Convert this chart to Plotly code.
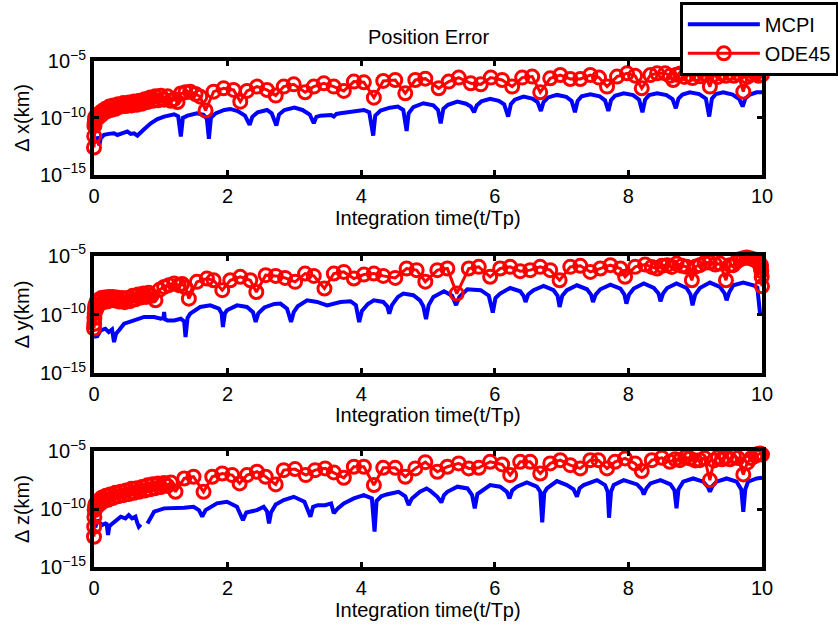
import plotly.graph_objects as go
from plotly.subplots import make_subplots

# Values: (t/Tp, log10 of error in km)
mcpi_x = [
    (0.05, -11.6), (0.08, -12.4), (0.10, -11.8), (0.15, -11.49), (0.22, -11.4), (0.30, -11.35),
    (0.35, -11.5), (0.40, -11.43), (0.45, -11.3), (0.50, -11.2), (0.55, -11.4), (0.60, -11.35),
    (0.65, -11.55), (0.75, -11.0), (0.85, -10.47), (0.95, -10.1), (1.05, -9.88), (1.20, -9.68),
    (1.26, -9.85), (1.30, -11.64), (1.33, -10.0), (1.40, -9.8), (1.54, -9.59), (1.64, -9.72),
    (1.69, -10.1), (1.72, -11.84), (1.75, -10.0), (1.82, -9.6), (1.95, -9.3), (2.04, -9.21),
    (2.15, -9.4), (2.26, -9.8), (2.33, -10.61), (2.37, -9.9), (2.45, -9.5), (2.59, -9.3),
    (2.66, -9.6), (2.73, -10.67), (2.77, -9.7), (2.85, -9.3), (3.00, -9.09), (3.12, -9.3),
    (3.23, -9.7), (3.29, -10.47), (3.33, -9.9), (3.39, -9.8), (3.50, -9.72), (3.55, -9.75),
    (3.59, -9.88), (3.63, -9.65), (3.69, -9.59), (3.89, -9.39), (4.04, -9.3), (4.12, -9.5),
    (4.18, -11.55), (4.21, -9.8), (4.29, -9.35), (4.43, -9.1), (4.55, -9.0), (4.63, -9.3),
    (4.68, -11.14), (4.71, -9.6), (4.78, -9.05), (4.93, -8.71), (5.08, -8.9), (5.15, -9.3),
    (5.19, -10.47), (5.23, -9.2), (5.30, -8.85), (5.44, -8.57), (5.57, -8.75), (5.64, -9.0),
    (5.69, -9.5), (5.73, -8.9), (5.80, -8.55), (5.93, -8.33), (6.06, -8.5), (6.14, -8.8),
    (6.20, -9.88), (6.24, -8.8), (6.30, -8.4), (6.43, -8.13), (6.56, -8.3), (6.64, -8.6),
    (6.69, -9.39), (6.73, -8.6), (6.80, -8.2), (6.93, -7.98), (7.07, -8.15), (7.15, -8.5),
    (7.20, -9.5), (7.24, -8.5), (7.30, -8.1), (7.43, -7.92), (7.57, -8.1), (7.65, -8.45),
    (7.70, -9.39), (7.74, -8.45), (7.80, -8.05), (7.93, -7.84), (8.07, -8.0), (8.16, -8.4),
    (8.21, -9.5), (8.25, -8.4), (8.31, -8.0), (8.43, -7.84), (8.57, -8.0), (8.66, -8.35),
    (8.71, -9.15), (8.75, -8.3), (8.81, -7.95), (8.92, -7.75), (9.06, -7.9), (9.16, -8.3),
    (9.21, -9.88), (9.25, -8.3), (9.31, -7.9), (9.42, -7.75), (9.56, -7.95), (9.66, -8.35),
    (9.71, -9.0), (9.75, -8.3), (9.82, -7.95), (9.92, -7.75), (10.0, -7.75),
]

ode45_x = [
    (0.000, -12.6), (0.003, -11.6), (0.006, -10.7), (0.010, -10.4), (0.015, -10.1), (0.020, -9.9),
    (0.03, -10.1), (0.045, -9.8), (0.06, -10.0), (0.08, -9.6), (0.10, -9.8), (0.12, -9.4),
    (0.14, -9.6), (0.17, -9.2), (0.20, -9.4), (0.23, -9.0), (0.26, -9.3), (0.29, -8.9),
    (0.32, -9.2), (0.36, -8.8), (0.40, -9.0), (0.44, -8.7), (0.48, -8.95), (0.52, -8.65),
    (0.56, -8.9), (0.60, -8.55), (0.64, -8.85), (0.68, -8.5), (0.72, -8.75), (0.76, -8.35),
    (0.80, -8.6), (0.84, -8.2), (0.88, -8.5), (0.92, -8.1), (0.96, -8.45), (1.00, -8.05),
    (1.05, -8.4), (1.10, -8.1), (1.15, -8.5), (1.20, -8.35), (1.25, -8.6), (1.30, -7.85),
    (1.37, -7.75), (1.44, -7.69), (1.52, -7.9), (1.59, -8.13), (1.67, -9.35), (1.79, -7.69),
    (1.94, -7.4), (2.09, -7.54), (2.19, -8.57), (2.29, -7.63), (2.44, -7.25), (2.59, -7.54),
    (2.72, -8.04), (2.84, -7.25), (2.99, -7.05), (3.16, -7.75), (3.29, -7.25), (3.44, -6.96),
    (3.59, -7.25), (3.74, -7.63), (3.89, -6.81), (4.04, -6.87), (4.19, -8.22), (4.33, -6.75),
    (4.51, -6.67), (4.66, -7.84), (4.81, -6.67), (4.96, -6.55), (5.16, -7.4), (5.31, -6.81),
    (5.46, -6.46), (5.64, -6.96), (5.79, -7.05), (5.94, -6.46), (6.11, -6.67), (6.26, -7.25),
    (6.41, -6.46), (6.56, -6.37), (6.68, -7.75), (6.83, -6.52), (6.98, -6.23), (7.13, -6.58),
    (7.28, -6.58), (7.43, -6.23), (7.56, -6.46), (7.68, -7.25), (7.83, -6.37), (7.98, -6.08),
    (8.10, -6.29), (8.20, -7.4), (8.33, -6.23), (8.43, -6.08), (8.55, -6.08), (8.62, -6.3),
    (8.67, -6.67), (8.72, -6.2), (8.78, -6.1), (8.84, -6.4), (8.90, -6.2), (8.96, -6.5),
    (9.02, -6.15), (9.08, -6.35), (9.14, -6.1), (9.22, -7.25), (9.28, -6.2), (9.34, -6.4),
    (9.40, -6.1), (9.46, -6.3), (9.52, -6.05), (9.58, -6.3), (9.64, -6.1), (9.72, -7.69),
    (9.78, -6.4), (9.84, -6.2), (9.90, -6.1), (9.95, -6.3), (10.0, -6.2),
]

mcpi_y = [
    (0.00, -11.9), (0.05, -11.85), (0.10, -11.35), (0.17, -11.21), (0.22, -11.5), (0.27, -11.27),
    (0.30, -12.35), (0.33, -11.64), (0.38, -11.3), (0.45, -10.78), (0.60, -10.5), (0.75, -10.21),
    (0.90, -10.21), (1.00, -10.36), (1.04, -10.3), (1.05, -9.79), (1.06, -10.4), (1.10, -10.5),
    (1.20, -10.5), (1.30, -10.36), (1.35, -10.6), (1.37, -11.92), (1.40, -10.3), (1.44, -9.93),
    (1.59, -9.36), (1.74, -9.22), (1.87, -9.5), (1.91, -9.9), (1.93, -11.07), (1.96, -9.9),
    (1.99, -9.64), (2.14, -9.22), (2.29, -9.36), (2.38, -9.8), (2.42, -10.64), (2.46, -9.9),
    (2.55, -9.4), (2.70, -9.1), (2.79, -9.07), (2.89, -9.5), (2.95, -10.64), (2.99, -9.8),
    (3.05, -9.3), (3.19, -8.79), (3.34, -8.93), (3.49, -9.22), (3.69, -8.93), (3.84, -8.87),
    (3.92, -9.2), (3.97, -10.64), (4.01, -9.7), (4.10, -9.1), (4.19, -8.79), (4.33, -8.93),
    (4.39, -9.3), (4.42, -9.93), (4.46, -9.2), (4.55, -8.5), (4.63, -8.22), (4.78, -8.36),
    (4.88, -8.79), (4.93, -9.3), (4.97, -10.4), (5.01, -9.2), (5.08, -8.5), (5.24, -8.02),
    (5.36, -8.4), (5.42, -9.2), (5.47, -8.5), (5.59, -7.85), (5.79, -7.93), (5.91, -8.4),
    (5.97, -9.84), (6.01, -8.6), (6.08, -8.22), (6.23, -7.74), (6.38, -8.02), (6.43, -8.4),
    (6.46, -8.93), (6.50, -8.3), (6.58, -7.93), (6.73, -7.56), (6.88, -7.93), (6.94, -8.4),
    (6.97, -9.36), (7.01, -8.4), (7.08, -7.93), (7.23, -7.51), (7.38, -7.85), (7.44, -8.3),
    (7.47, -8.93), (7.51, -8.3), (7.58, -7.85), (7.73, -7.45), (7.88, -7.79), (7.94, -8.3),
    (7.97, -9.07), (8.01, -8.3), (8.08, -7.79), (8.23, -7.36), (8.38, -7.74), (8.45, -8.2),
    (8.48, -8.87), (8.52, -8.2), (8.58, -7.74), (8.72, -7.36), (8.87, -7.74), (8.93, -8.3),
    (8.96, -9.22), (9.00, -8.3), (9.07, -7.74), (9.22, -7.28), (9.37, -7.65), (9.44, -8.2),
    (9.47, -8.79), (9.51, -8.1), (9.57, -7.51), (9.72, -7.28), (9.87, -7.51), (9.93, -7.7),
    (9.97, -9.9),
]

ode45_y = [
    (0.000, -11.2), (0.003, -10.8), (0.006, -10.3), (0.010, -9.9), (0.015, -9.5), (0.02, -9.2),
    (0.03, -9.6), (0.04, -8.9), (0.055, -9.3), (0.07, -8.75), (0.09, -9.1), (0.11, -8.6),
    (0.13, -8.95), (0.16, -8.55), (0.19, -8.9), (0.22, -8.5), (0.25, -8.8), (0.28, -8.5),
    (0.31, -8.8), (0.34, -8.55), (0.38, -8.9), (0.42, -8.6), (0.46, -8.95), (0.50, -8.6),
    (0.54, -8.85), (0.58, -8.4), (0.62, -8.7), (0.66, -8.3), (0.70, -8.55), (0.74, -8.2),
    (0.78, -8.5), (0.82, -8.15), (0.86, -8.4), (0.92, -8.79), (0.98, -7.9), (1.05, -7.65),
    (1.12, -7.5), (1.20, -7.36), (1.27, -7.5), (1.32, -7.4), (1.37, -7.7), (1.42, -8.65),
    (1.54, -7.22), (1.69, -6.94), (1.79, -7.08), (1.92, -7.93), (2.04, -7.08), (2.19, -6.79),
    (2.34, -7.08), (2.43, -8.08), (2.57, -6.65), (2.72, -6.71), (2.86, -6.88), (3.01, -7.22),
    (3.16, -6.51), (3.29, -6.71), (3.45, -7.79), (3.59, -6.51), (3.74, -6.37), (3.89, -6.94),
    (4.04, -6.6), (4.19, -6.51), (4.33, -6.71), (4.51, -6.88), (4.68, -6.08), (4.83, -6.22),
    (4.96, -7.2), (5.14, -6.22), (5.29, -6.08), (5.43, -8.22), (5.61, -6.08), (5.76, -5.94),
    (5.93, -6.79), (6.08, -6.08), (6.23, -5.94), (6.38, -6.31), (6.53, -6.22), (6.68, -5.94),
    (6.83, -6.22), (6.97, -7.08), (7.13, -5.94), (7.28, -5.85), (7.43, -6.37), (7.58, -6.08),
    (7.73, -5.8), (7.88, -6.08), (7.95, -6.79), (8.10, -5.94), (8.25, -5.74), (8.35, -5.95),
    (8.43, -6.08), (8.50, -5.85), (8.58, -5.8), (8.65, -5.95), (8.72, -5.66), (8.80, -5.85),
    (8.87, -5.94), (8.95, -7.08), (9.01, -5.9), (9.07, -5.8), (9.14, -5.6), (9.22, -5.57),
    (9.30, -5.75), (9.37, -5.66), (9.46, -7.08), (9.52, -5.8), (9.57, -5.8), (9.62, -5.5),
    (9.67, -5.3), (9.72, -5.2), (9.77, -5.15), (9.82, -5.2), (9.87, -5.3), (9.91, -5.4),
    (9.95, -5.6), (9.98, -6.0), (9.985, -5.8), (9.99, -6.3), (9.995, -6.8), (10.0, -7.6),
]

mcpi_z = [
    (0.02, -11.6), (0.05, -10.95), (0.09, -11.2), (0.12, -11.38), (0.17, -11.24), (0.19, -11.3),
    (0.21, -12.24), (0.23, -11.5), (0.25, -11.38), (0.35, -10.95), (0.40, -10.66), (0.47, -10.8),
    (0.52, -10.52), (0.57, -10.8), (0.62, -10.66), (0.65, -11.24), (0.67, -11.52), (0.70, -11.32),
    (0.72, None),
    (0.80, -11.24), (0.85, -10.66), (0.90, -10.23), (1.05, -9.94), (1.20, -9.94), (1.35, -9.89),
    (1.49, -9.8), (1.57, -10.09), (1.62, -10.66), (1.67, -10.09), (1.84, -9.51), (1.99, -9.37),
    (2.14, -9.8), (2.23, -10.95), (2.28, -10.3), (2.34, -10.23), (2.44, -10.09), (2.54, -9.8),
    (2.59, -10.2), (2.62, -11.24), (2.65, -10.3), (2.72, -9.6), (2.84, -9.22), (2.99, -8.94),
    (3.15, -9.37), (3.24, -10.66), (3.28, -9.8), (3.35, -9.66), (3.46, -9.66), (3.55, -9.51),
    (3.59, -10.37), (3.65, -9.94), (3.74, -9.51), (3.89, -9.08), (4.04, -8.79), (4.16, -9.08),
    (4.20, -11.95), (4.23, -9.3), (4.30, -8.9), (4.38, -8.74), (4.56, -8.51), (4.66, -8.9),
    (4.71, -9.66), (4.76, -9.08), (4.88, -8.51), (4.98, -8.22), (5.04, -8.45), (5.14, -8.94),
    (5.20, -9.43), (5.24, -8.8), (5.29, -8.51), (5.44, -8.07), (5.59, -8.22), (5.66, -8.79),
    (5.70, -9.94), (5.74, -8.7), (5.79, -8.51), (5.93, -7.93), (6.08, -8.07), (6.18, -8.51),
    (6.22, -9.08), (6.26, -8.4), (6.33, -8.07), (6.48, -7.70), (6.63, -8.07), (6.68, -8.5),
    (6.71, -11.15), (6.74, -8.6), (6.78, -8.22), (6.93, -7.59), (7.08, -7.93), (7.18, -8.3),
    (7.23, -8.94), (7.27, -8.2), (7.33, -7.93), (7.53, -7.5), (7.65, -7.93), (7.69, -8.5),
    (7.71, -10.75), (7.74, -8.5), (7.78, -7.93), (7.93, -7.5), (8.13, -7.87), (8.20, -8.3),
    (8.23, -8.74), (8.27, -8.2), (8.33, -7.79), (8.48, -7.5), (8.63, -7.87), (8.69, -8.4),
    (8.72, -9.94), (8.75, -8.3), (8.82, -7.64), (8.97, -7.36), (9.12, -7.64), (9.19, -8.1),
    (9.22, -8.51), (9.26, -8.0), (9.32, -7.64), (9.47, -7.36), (9.62, -7.64), (9.69, -8.3),
    (9.72, -10.23), (9.75, -8.3), (9.79, -7.64), (9.92, -7.36), (10.0, -7.30),
]

ode45_z = [
    (0.000, -12.39), (0.003, -11.52), (0.006, -10.7), (0.01, -10.09), (0.015, -9.9), (0.02, -9.6),
    (0.03, -9.9), (0.045, -9.4), (0.06, -9.7), (0.08, -9.2), (0.10, -9.5), (0.12, -9.0),
    (0.15, -9.3), (0.18, -8.85), (0.21, -9.2), (0.24, -8.75), (0.28, -9.05), (0.32, -8.6),
    (0.36, -8.9), (0.40, -8.5), (0.44, -8.8), (0.48, -8.4), (0.52, -8.7), (0.56, -8.25),
    (0.60, -8.6), (0.64, -8.2), (0.68, -8.5), (0.72, -8.1), (0.76, -8.4), (0.80, -7.95),
    (0.84, -8.3), (0.88, -7.85), (0.92, -8.2), (0.96, -7.8), (1.00, -8.1), (1.05, -7.75),
    (1.10, -8.0), (1.15, -7.7), (1.22, -8.51), (1.35, -7.36), (1.49, -7.21), (1.64, -8.51),
    (1.77, -7.21), (1.92, -6.93), (2.07, -7.07), (2.18, -7.79), (2.29, -7.07), (2.44, -6.78),
    (2.57, -7.21), (2.72, -7.87), (2.84, -6.64), (3.01, -6.55), (3.17, -7.07), (3.31, -6.64),
    (3.46, -6.49), (3.59, -6.84), (3.74, -7.3), (3.89, -6.35), (4.04, -6.35), (4.19, -7.93),
    (4.33, -6.44), (4.51, -6.44), (4.66, -7.21), (4.81, -6.49), (4.96, -5.95), (5.14, -6.78),
    (5.29, -6.35), (5.46, -6.06), (5.61, -6.49), (5.76, -6.44), (5.93, -5.92), (6.11, -6.15),
    (6.23, -7.07), (6.38, -5.92), (6.53, -5.92), (6.68, -6.93), (6.83, -6.06), (6.98, -5.78),
    (7.13, -6.21), (7.28, -6.49), (7.43, -5.78), (7.55, -5.78), (7.68, -6.49), (7.80, -5.92),
    (7.95, -5.63), (8.10, -6.06), (8.20, -6.72), (8.35, -5.78), (8.50, -5.57), (8.62, -5.92),
    (8.70, -5.7), (8.77, -5.78), (8.85, -5.55), (8.92, -5.63), (9.00, -5.8), (9.07, -5.78),
    (9.14, -5.6), (9.22, -7.5), (9.28, -5.8), (9.34, -5.55), (9.40, -5.7), (9.46, -5.5),
    (9.52, -5.7), (9.58, -5.45), (9.64, -5.6), (9.72, -7.01), (9.78, -6.0), (9.84, -5.6),
    (9.90, -5.4), (9.94, -5.25), (9.97, -5.2), (10.0, -5.3),
]

x_ticks = [0, 2, 4, 6, 8, 10]
y_tick_exponents = [-15, -10, -5]
y_labels = ["Δ x(km)", "Δ y(km)", "Δ z(km)"]
x_label = "Integration time(t/Tp)"
title_text = "Position Error"

FONT = "Liberation Sans, Arial, Helvetica, sans-serif"
BLUE = "rgb(0,0,255)"
RED = "rgb(255,0,0)"


def split(series):
    ts = [p[0] for p in series]
    vs = [None if p[1] is None else 10 ** p[1] for p in series]
    return ts, vs


fig = make_subplots(rows=3, cols=1)

pairs = [(mcpi_x, ode45_x), (mcpi_y, ode45_y), (mcpi_z, ode45_z)]
for i, (m, o) in enumerate(pairs, start=1):
    mt, mv = split(m)
    ot, ov = split(o)
    fig.add_trace(go.Scatter(x=mt, y=mv, mode="lines", name="MCPI",
                             line=dict(color=BLUE, width=4), showlegend=(i == 1),
                             connectgaps=False), row=i, col=1)
    fig.add_trace(go.Scatter(x=ot, y=ov, mode="lines+markers", name="ODE45",
                             line=dict(color=RED, width=3),
                             marker=dict(symbol="circle-open", size=13, color=RED,
                                         line=dict(width=3, color=RED)),
                             cliponaxis=False, showlegend=(i == 1)), row=i, col=1)

# plot area: left 94, right 762, top 61, bottom 567 (px)
domains = [[0.775, 1.0], [0.383, 0.615], [0.0, 0.229]]
for i in range(3):
    xa = "xaxis" if i == 0 else f"xaxis{i+1}"
    ya = "yaxis" if i == 0 else f"yaxis{i+1}"
    fig.layout[xa].update(
        range=[0, 10], tickvals=x_ticks, ticktext=[str(v) for v in x_ticks],
        ticks="inside", ticklen=5, tickwidth=2.5, tickcolor="black",
        showline=True, linecolor="black", linewidth=4, mirror="ticks",
        showgrid=False, zeroline=False, domain=[0, 1],
        tickfont=dict(size=20, color="black", family=FONT),
    )
    fig.layout[ya].update(
        type="log", range=[-15, -5],
        tickvals=[10 ** e for e in y_tick_exponents],
        ticktext=[f"10<sup>−{abs(e)}</sup>" for e in y_tick_exponents],
        ticks="inside", ticklen=5, tickwidth=2.5, tickcolor="black",
        showline=True, linecolor="black", linewidth=4, mirror="ticks",
        showgrid=False, zeroline=False, domain=domains[i],
        tickfont=dict(size=20, color="black", family=FONT),
    )

annotations = [
    dict(text=title_text, x=0.5, y=1.047, xref="paper", yref="paper",
         showarrow=False, font=dict(size=20, color="black", family=FONT),
         xanchor="center", yanchor="middle"),
]
xlabel_y = [0.690, 0.300, -0.085]
for i in range(3):
    annotations.append(dict(text=x_label, x=0.5, y=xlabel_y[i], xref="paper", yref="paper",
                            showarrow=False, font=dict(size=20, color="black", family=FONT),
                            xanchor="center", yanchor="middle"))
    annotations.append(dict(text=y_labels[i], x=-0.108, y=sum(domains[i]) / 2,
                            xref="paper", yref="paper", textangle=-90,
                            showarrow=False, font=dict(size=20, color="black", family=FONT),
                            xanchor="center", yanchor="middle"))

fig.update_layout(
    width=838, height=626,
    margin=dict(l=94, r=76, t=61, b=59, autoexpand=False),
    paper_bgcolor="white", plot_bgcolor="white",
    font=dict(family=FONT, size=20, color="black"),
    annotations=annotations,
    legend=dict(x=0.877, y=1.117, xanchor="left", yanchor="top",
                bgcolor="white", bordercolor="black", borderwidth=3,
                font=dict(size=20, color="black", family=FONT),
                itemwidth=72, tracegroupgap=0),
)

fig.write_html("out.html")
